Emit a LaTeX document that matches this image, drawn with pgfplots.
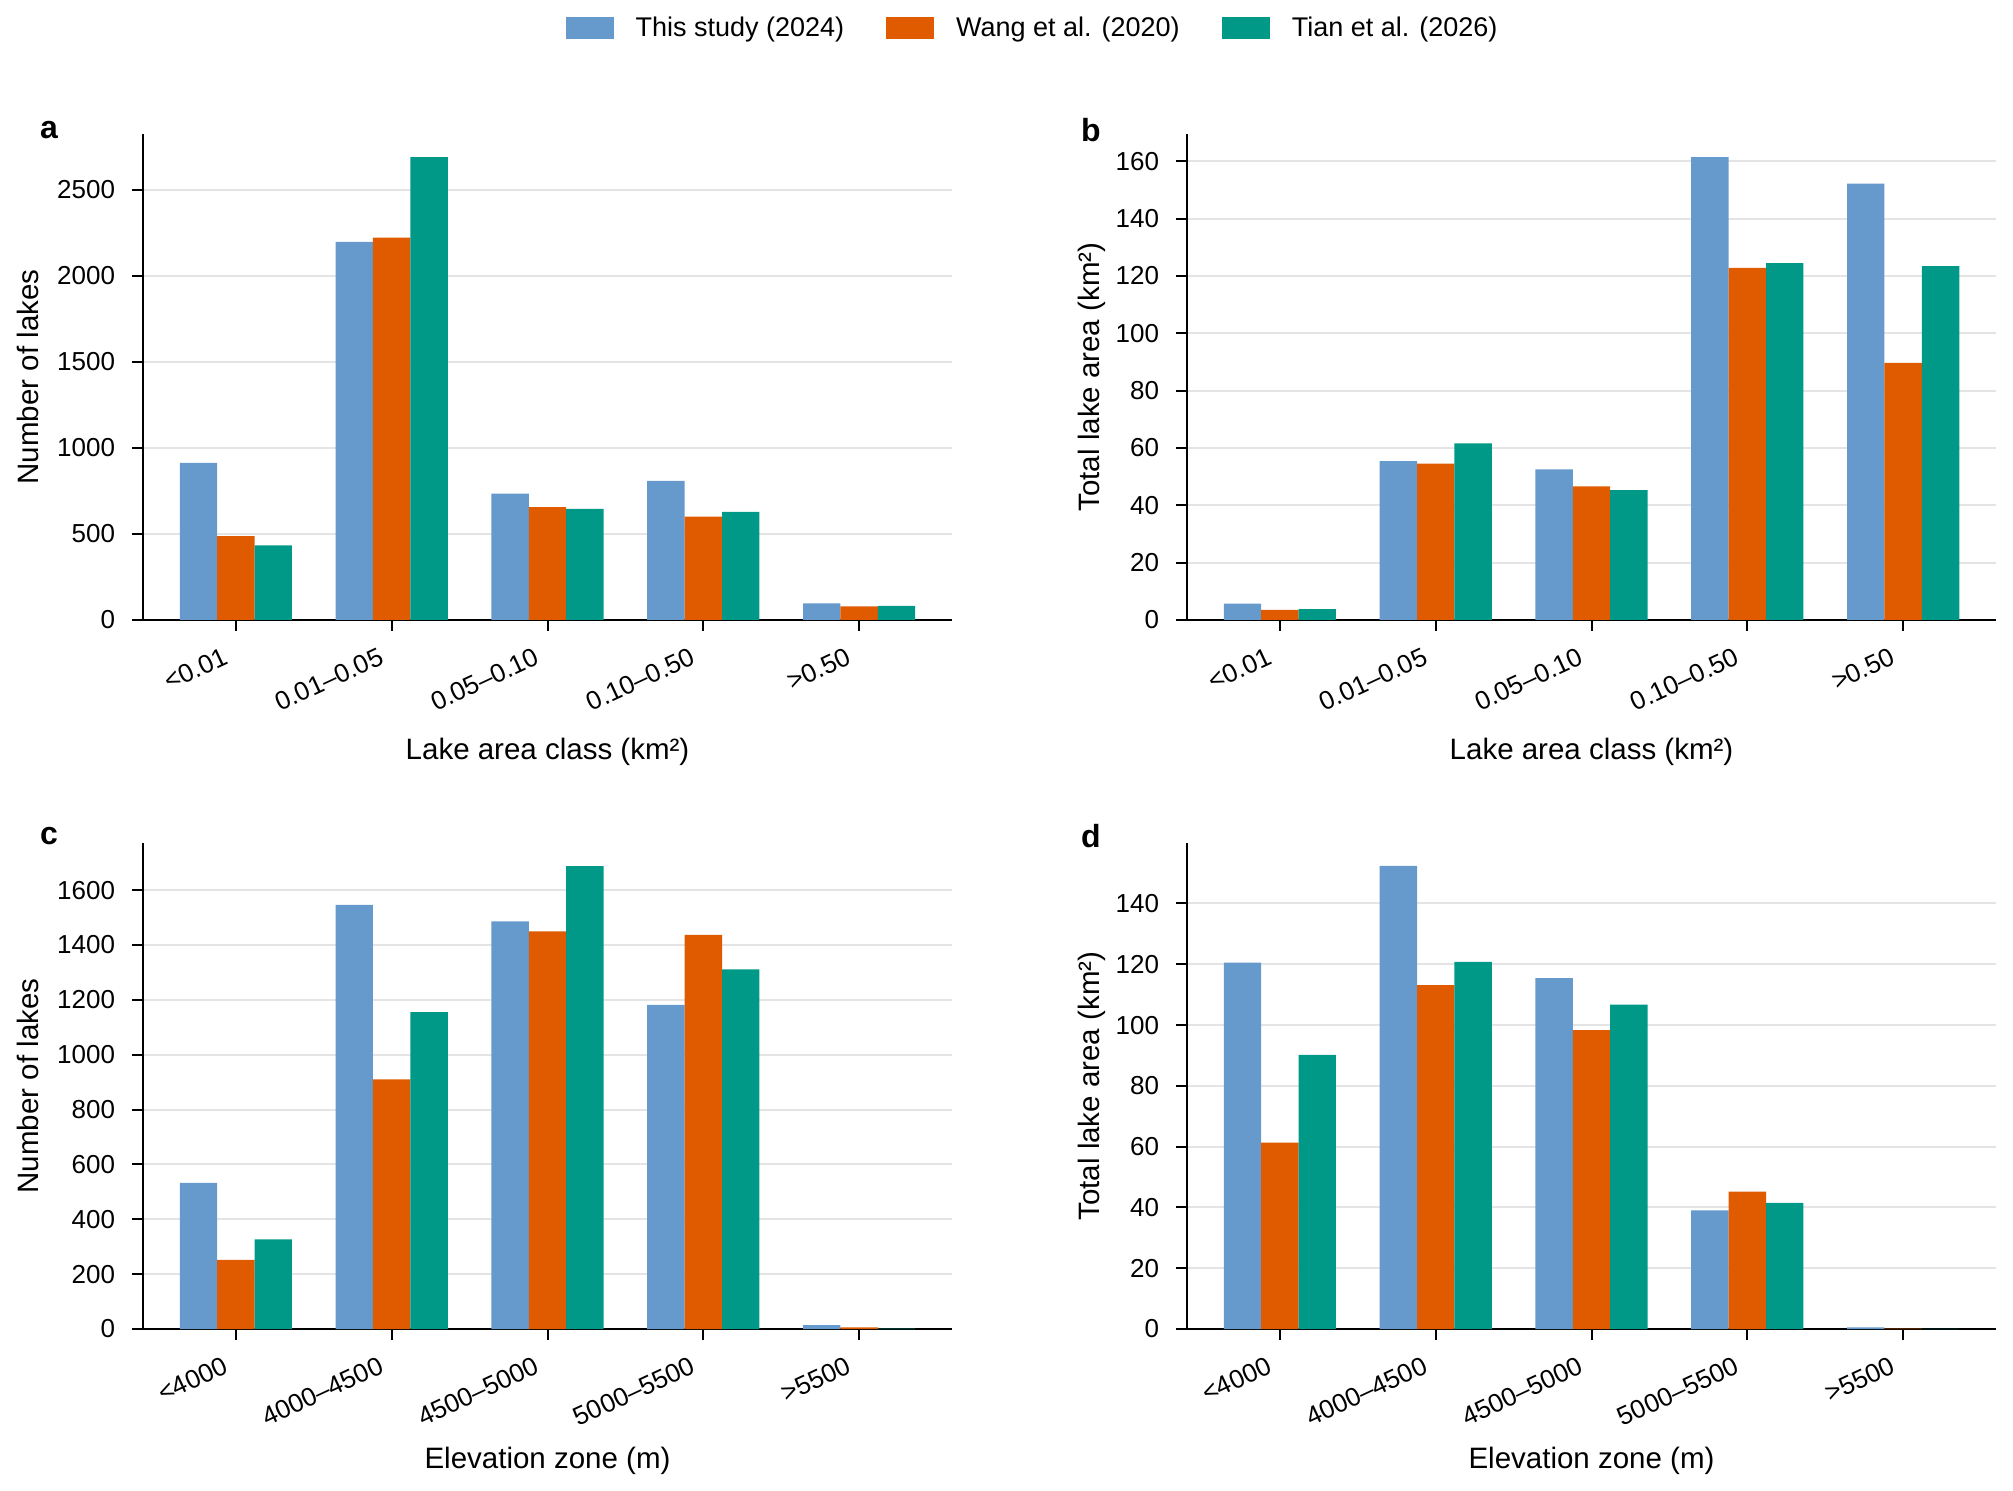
\documentclass[border=0pt]{standalone}
\usepackage{fontspec}
\setmainfont{Liberation Sans}
\usepackage{pgfplots}
\pgfplotsset{compat=1.18}
\usepackage{pgfplotstable}
\definecolor{cblue}{HTML}{6699CC}
\definecolor{corange}{HTML}{E05A00}
\definecolor{cteal}{HTML}{009988}
\definecolor{gridgray}{HTML}{E4E4E4}

\pgfplotstableread{
x s w t
0 913 487 434
1 2197 2222 2689
2 735 656 645
3 809 600 628
4 97 79 82
}\dataA
\pgfplotstableread{
x s w t
0 5.7 3.5 3.8
1 55.4 54.5 61.6
2 52.5 46.6 45.3
3 161.4 122.8 124.5
4 152.2 89.7 123.4
}\dataB
\pgfplotstableread{
x s w t
0 533 252 327
1 1546 910 1155
2 1486 1450 1688
3 1182 1437 1311
4 14 6 1
}\dataC
\pgfplotstableread{
x s w t
0 120.5 61.3 90.2
1 152.4 113.1 120.8
2 115.4 98.3 106.7
3 39.0 45.2 41.5
4 0.5 0.1 0.05
}\dataD

\pgfplotsset{
 layers/mylayers/.define layer set={axis background,axis grid,main,axis ticks,axis lines,axis tick labels,axis descriptions,axis foreground}{},
 panel/.style={
  set layers=mylayers,
  scale only axis, width=404.5pt, height=243pt, anchor=south west,
  axis lines*=left,
  xmin=-0.596, xmax=4.596, ymin=0,
  xtick={0,1,2,3,4},
  ybar, bar width=0.24,
  ymajorgrids, major grid style={line width=1pt, gridgray},
  tick align=outside, major tick length=5.5pt,
  xtick style={line width=1pt, black},
  ytick style={line width=1pt, black},
  x axis line style={line width=1.3pt, shorten <=-5.5pt},
  y axis line style={line width=1.1pt},
  tick label style={font=\fontsize{13}{15}\selectfont},
  /pgf/number format/assume math mode=true,
  /pgf/number format/set thousands separator={},
  yticklabel style={inner sep=0pt, anchor=east, xshift=-8.3pt},
  xticklabel style={inner sep=0pt, xshift=-7pt, yshift=-7.5pt, rotate=25, anchor=north east},
  label style={font=\fontsize{14.75}{17}\selectfont},
  xlabel style={at={(rel axis cs:0.5,-0.272)}, anchor=center},
 },
 sblue/.style={fill=cblue, draw=none, bar shift=-0.24},
 sorange/.style={fill=corange, draw=none, bar shift=0},
 steal/.style={fill=cteal, draw=none, bar shift=0.24},
 patch/.style={legend image code/.code={\fill[##1] (0pt,-5.7pt) rectangle (24pt,5.3pt);}},
}

\begin{document}
\begin{tikzpicture}
\path (0,0) rectangle (1006.5pt,745pt);

% panel a
\begin{axis}[panel, at={(71.5pt,435pt)}, ymax=2824,
  ytick={0,500,...,2500},
  xticklabels={{<0.01},{0.01–0.05},{0.05–0.10},{0.10–0.50},{>0.50}},
  xlabel={Lake area class (km²)}, ylabel={Number of lakes},
  ylabel style={at={(rel axis cs:-0.142,0.5)}, anchor=center},
  legend columns=3,
  legend style={at={(1.1007,1.2186)}, anchor=center, draw=none, fill=none,
    font=\fontsize{13.5}{16}\selectfont,
    nodes={inner sep=2pt},
    /tikz/every odd column/.append style={column sep=9pt},
    /tikz/every even column/.append style={column sep=19pt}},
]
\addplot[sblue, patch] table[x=x,y=s] {\dataA};
\addplot[sorange, patch] table[x=x,y=w] {\dataA};
\addplot[steal, patch] table[x=x,y=t] {\dataA};
\addlegendentry{This study (2024)}
\addlegendentry{Wang et al. (2020)}
\addlegendentry{Tian et al. (2026)}
\end{axis}

% panel b
\begin{axis}[panel, at={(593.5pt,435pt)}, ymax=169.5,
  ytick={0,20,...,160},
  xticklabels={{<0.01},{0.01–0.05},{0.05–0.10},{0.10–0.50},{>0.50}},
  xlabel={Lake area class (km²)}, ylabel={Total lake area (km²)},
  ylabel style={at={(rel axis cs:-0.1174,0.5)}, anchor=center},
]
\addplot[sblue] table[x=x,y=s] {\dataB};
\addplot[sorange] table[x=x,y=w] {\dataB};
\addplot[steal] table[x=x,y=t] {\dataB};
\end{axis}

% panel c
\begin{axis}[panel, at={(71.5pt,80.5pt)}, ymax=1772,
  ytick={0,200,...,1600},
  xticklabels={{<4000},{4000–4500},{4500–5000},{5000–5500},{>5500}},
  xlabel={Elevation zone (m)}, ylabel={Number of lakes},
  ylabel style={at={(rel axis cs:-0.142,0.5)}, anchor=center},
]
\addplot[sblue] table[x=x,y=s] {\dataC};
\addplot[sorange] table[x=x,y=w] {\dataC};
\addplot[steal] table[x=x,y=t] {\dataC};
\end{axis}

% panel d
\begin{axis}[panel, at={(593.5pt,80.5pt)}, ymax=159.9,
  ytick={0,20,...,140},
  xticklabels={{<4000},{4000–4500},{4500–5000},{5000–5500},{>5500}},
  xlabel={Elevation zone (m)}, ylabel={Total lake area (km²)},
  ylabel style={at={(rel axis cs:-0.1174,0.5)}, anchor=center},
]
\addplot[sblue] table[x=x,y=s] {\dataD};
\addplot[sorange] table[x=x,y=w] {\dataD};
\addplot[steal] table[x=x,y=t] {\dataD};
\end{axis}

\node[font=\fontsize{16}{19}\selectfont\bfseries] at (24.5pt,680pt) {a};
\node[font=\fontsize{16}{19}\selectfont\bfseries] at (545.5pt,680pt) {b};
\node[font=\fontsize{16}{19}\selectfont\bfseries] at (24.5pt,327pt) {c};
\node[font=\fontsize{16}{19}\selectfont\bfseries] at (545.5pt,327pt) {d};
\end{tikzpicture}
\end{document}
